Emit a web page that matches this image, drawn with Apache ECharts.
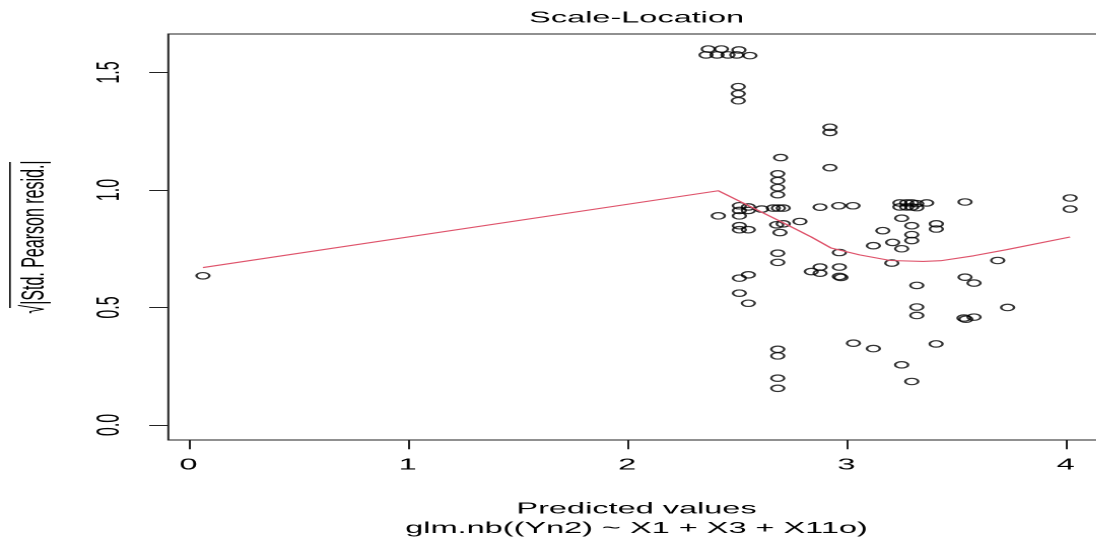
<!DOCTYPE html>
<html>
<head>
<meta charset="utf-8">
<script src="https://cdn.jsdelivr.net/npm/echarts@6/dist/echarts.min.js"></script>
<style>
  html, body { margin: 0; padding: 0; background: #fff; overflow: hidden; }
  #wrap { width: 1096px; height: 542px; overflow: hidden; }
  #c { width: 539.9px; height: 542px; transform: scaleX(2.03); transform-origin: 0 0; }
</style>
</head>
<body>
<div id="wrap"><div id="c"></div></div>
<script>
// ---- data ----
const xTicks = [0, 1, 2, 3, 4];
const yTicks = [0, 0.5, 1.0, 1.5];

const predictedValues = [
  0.066,
  2.37, 2.43, 2.51, 2.36, 2.41, 2.46, 2.50, 2.56,
  2.507, 2.507, 2.507,
  2.70, 2.687, 2.687, 2.687, 2.687, 2.667, 2.690, 2.712, 2.682, 2.712, 2.697, 2.687, 2.687, 2.687, 2.687, 2.687, 2.687,
  2.925, 2.925, 2.925,
  2.614, 2.512, 2.512, 2.512, 2.553, 2.553, 2.416, 2.512, 2.512, 2.553, 2.788, 2.512, 2.553, 2.512, 2.553,
  2.880, 2.965, 3.030, 2.880, 2.880, 2.968, 2.968, 2.975, 2.84, 2.968,
  3.244, 3.244, 3.275, 3.275, 3.298, 3.298, 3.321, 3.321, 3.366,
  3.252, 3.298, 3.41, 3.41, 3.166, 3.298, 3.298, 3.123, 3.211, 3.252, 3.207, 3.321, 3.321, 3.321,
  3.032, 3.123, 3.409, 3.252, 3.298,
  3.541, 4.020, 4.020, 3.690, 3.541, 3.582, 3.735, 3.536, 3.545, 3.582
];
const sqrtStdPearsonResid = [
  0.635,
  1.600, 1.600, 1.596, 1.575, 1.575, 1.575, 1.575, 1.572,
  1.44, 1.41, 1.38,
  1.138, 1.069, 1.040, 1.010, 0.980, 0.923, 0.923, 0.923, 0.852, 0.856, 0.819, 0.731, 0.692, 0.322, 0.294, 0.199, 0.156,
  1.095, 1.267, 1.245,
  0.919, 0.933, 0.913, 0.890, 0.928, 0.913, 0.890, 0.848, 0.831, 0.831, 0.866, 0.625, 0.639, 0.561, 0.518,
  0.927, 0.933, 0.933, 0.672, 0.646, 0.672, 0.632, 0.628, 0.653, 0.734,
  0.945, 0.928, 0.945, 0.928, 0.945, 0.928, 0.942, 0.925, 0.945,
  0.880, 0.848, 0.856, 0.834, 0.827, 0.810, 0.785, 0.763, 0.777, 0.750, 0.689, 0.594, 0.502, 0.466,
  0.348, 0.325, 0.345, 0.256, 0.185,
  0.949, 0.966, 0.919, 0.700, 0.629, 0.604, 0.500, 0.455, 0.450, 0.459
];

const smoothX = [0.066, 2.416, 2.70, 2.84, 2.93, 3.06, 3.20, 3.35, 3.43, 3.58, 3.73, 4.02];
const smoothY = [0.670, 0.997, 0.866, 0.800, 0.753, 0.724, 0.700, 0.696, 0.699, 0.720, 0.746, 0.800];

// ---- chart ----
const FONT = 'Liberation Sans, Arial, sans-serif';
const chart = echarts.init(document.getElementById('c'), null, { renderer: 'canvas', devicePixelRatio: 2 });

const points = predictedValues.map((x, i) => [x, sqrtStdPearsonResid[i]]);
const smooth = smoothX.map((x, i) => [x, smoothY[i]]);

chart.setOption({
  animation: false,
  backgroundColor: '#fff',
  title: {
    text: 'Scale-Location',
    left: 313.6,
    top: 10,
    padding: 0,
    textAlign: 'center',
    textStyle: { fontFamily: FONT, fontSize: 16, fontWeight: 'normal', color: '#000' }
  },
  grid: {
    left: 82.9, top: 34, width: 461.3, height: 406,
    containLabel: false, outerBoundsMode: 'none',
    show: true, borderColor: '#222', borderWidth: 1, backgroundColor: 'transparent'
  },
  xAxis: {
    type: 'value', min: -0.092, max: 4.178,
    name: 'Predicted values\nglm.nb((Yn2) ~ X1 + X3 + X11o)',
    nameLocation: 'middle', nameGap: 59.5,
    nameTextStyle: { fontFamily: FONT, fontSize: 16, color: '#000', lineHeight: 19.5 },
    axisLine: { show: false, onZero: false },
    axisTick: { show: true, inside: false, length: 9.3, customValues: xTicks, lineStyle: { color: '#222', width: 1 } },
    axisLabel: { customValues: xTicks, margin: 17, fontFamily: FONT, fontSize: 16, color: '#000',
                 formatter: v => String(v) },
    splitLine: { show: false }
  },
  yAxis: {
    type: 'value', min: -0.064, max: 1.664,
    name: '√|Std. Pearson resid.|',
    nameLocation: 'middle', nameGap: 58, nameRotate: 90,
    nameTextStyle: { fontFamily: FONT, fontSize: 16, color: '#000' },
    axisLine: { show: false, onZero: false },
    axisTick: { show: true, inside: false, length: 9.4, customValues: yTicks, lineStyle: { color: '#222', width: 1 } },
    axisLabel: { customValues: yTicks, rotate: 90, margin: 20.6, fontFamily: FONT, fontSize: 16, color: '#000',
                 formatter: v => v.toFixed(1) },
    splitLine: { show: false }
  },
  graphic: [
    { type: 'line', shape: { x1: 4.9, y1: 162, x2: 4.9, y2: 308 }, style: { stroke: '#000', lineWidth: 0.8 }, silent: true }
  ],
  series: [
    {
      type: 'scatter', data: points, symbol: 'circle', symbolSize: 6.4,
      itemStyle: { color: 'rgba(0,0,0,0)', borderColor: '#000', borderWidth: 1.2 },
      emphasis: { disabled: true }, z: 2
    },
    {
      type: 'line', data: smooth, showSymbol: false, smooth: false,
      lineStyle: { color: '#DF536B', width: 1.1 }, z: 3, emphasis: { disabled: true }
    }
  ]
});
</script>
</body>
</html>
